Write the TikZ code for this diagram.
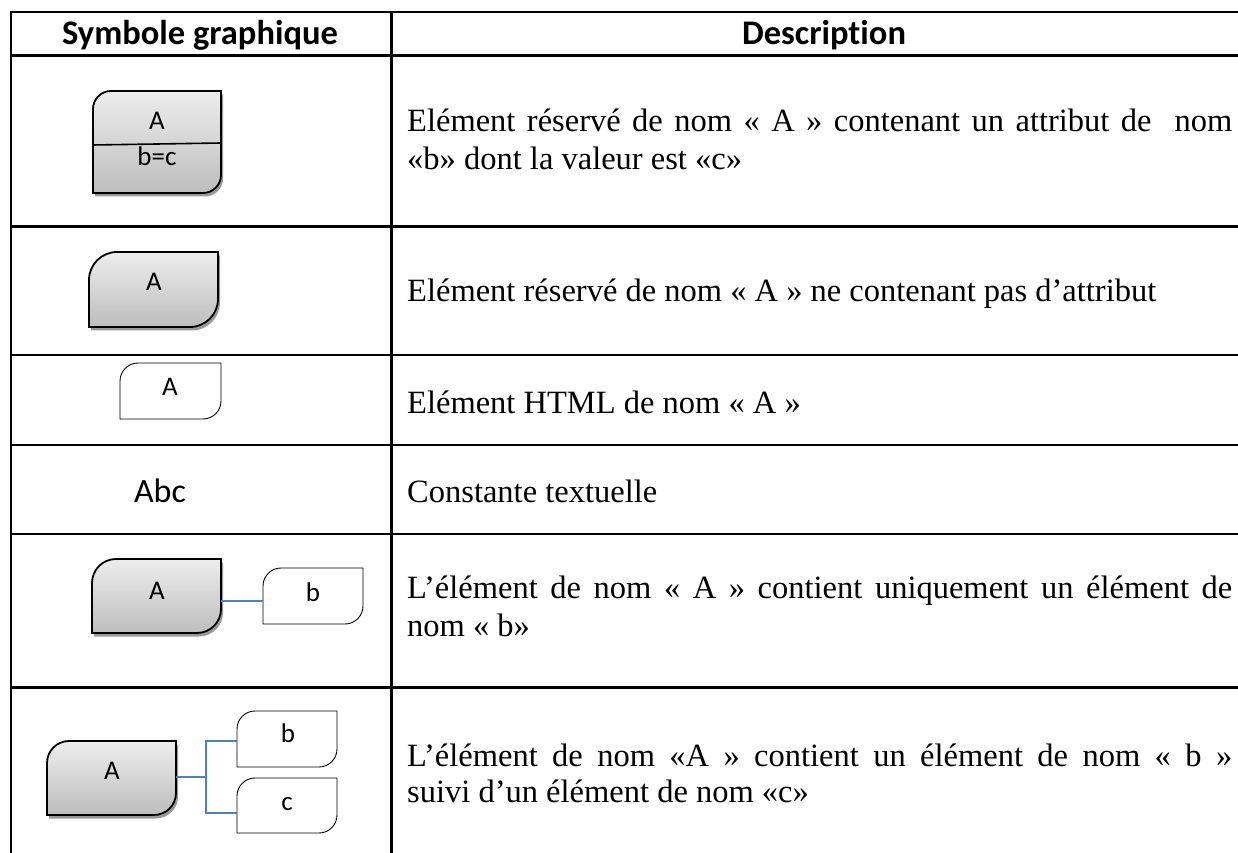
\documentclass[tikz,border=0pt]{standalone}
\usepackage{fontspec}
\newfontfamily\descfont{Liberation Serif}
\newfontfamily\shapefont[Ligatures=NoCommon]{Carlito}
\usetikzlibrary{calc}
\definecolor{linkblue}{HTML}{4F81BD}
\definecolor{fillTop}{HTML}{EDEDED}
\definecolor{fillBot}{HTML}{BDBDBD}

% outline of an element symbol: rounded top-left and bottom-right corners
% #1 node, #2 corner radius, #3/#4 offset
\newcommand\slotpath[4]{%
  ([shift={(#3,#4)}]#1.south west)
  -- ([shift={(#3,#4-#2)}]#1.north west)
  arc[start angle=180,end angle=90,radius=#2]
  -- ([shift={(#3,#4)}]#1.north east)
  -- ([shift={(#3,#4+#2)}]#1.south east)
  arc[start angle=0,end angle=-90,radius=#2]
  -- cycle}

\tikzset{
  slot/.style 2 args={rectangle, inner sep=0pt, outer sep=0pt,
    minimum width=#1, minimum height=#2},
  reserved/.style={draw=black, line width=1.8pt, top color=fillTop, bottom color=fillBot},
  htmlbox/.style={draw=black, line width=0.9pt, fill=white},
  shadowfill/.style={fill=black!40, draw=none},
  grid/.style={line width=2.4pt, line join=miter},
  head/.style={font=\shapefont\bfseries\fontsize{34.5}{37}\selectfont, anchor=base, inner sep=0pt},
  lbl/.style={font=\shapefont\fontsize{27}{30}\selectfont, anchor=base, inner sep=0pt},
  desc/.style={font=\descfont\fontsize{32.5}{38}\selectfont, anchor=base west, inner sep=0pt},
  link/.style={draw=linkblue, line width=1.6pt},
  trunk/.style={draw=linkblue, line width=2.6pt},
}

\begin{document}
\begin{tikzpicture}[x=1pt,y=1pt]
\useasboundingbox (0,0) rectangle (1238,852);
\clip (0,0) rectangle (1238,852);

% table rules
\draw[grid] (1270,840) -- (11,840) -- (11,-20);
\draw[grid] (391.5,840) -- (391.5,-20);
\foreach \yy in {796.5,625.5,497,407,318,164.5}
  \draw[grid] (11,\yy) -- (1270,\yy);

% headers
\node[head] (h1) at (200,807) {Symbole graphique};
\node[head] (h2) at (824,807) {Description};

% symbol placeholders
\node[slot={128pt}{102pt}] (r1) at (157,710) {};
\node[slot={129pt}{75pt}]  (r2) at (153.5,562.5) {};
\node[slot={101pt}{56pt}]  (r3) at (170.5,461) {};
\node[slot={129pt}{74pt}]  (a5) at (156.5,256) {};
\node[slot={100pt}{56pt}]  (b5) at (313,256) {};
\node[slot={129pt}{74pt}]  (a6) at (111.5,74) {};
\node[slot={100pt}{56pt}]  (b6) at (287,113) {};
\node[slot={100pt}{55pt}]  (c6) at (287,46.5) {};

% reserved elements (shaded, with shadow)
\foreach \n/\r in {r1/18, r2/28, a5/24, a6/22}{
  \path[shadowfill] \slotpath{\n}{\r}{2}{-3.5};
  \path[reserved] \slotpath{\n}{\r}{0}{0};
}
\draw[line width=1.6pt] ([yshift=-3pt]r1.west) -- ([yshift=-1pt]r1.east);

% HTML elements
\foreach \n in {r3, b5, b6, c6}
  \path[htmlbox] \slotpath{\n}{18}{0}{0};

% connectors
\draw[link] ([yshift=-5pt]a5.east) -- ([yshift=-5pt]b5.west);
\coordinate (j6) at (206,75);
\draw[trunk] ([yshift=1pt]a6.east) -- (j6);
\draw[link] ([yshift=-2pt]b6.west) -| (j6) |- ([yshift=-7.5pt]c6.west);

% symbol labels
\node[lbl] (t1a) at (157,722) {A};
\node[lbl] (t1b) at (157,686) {b=c};
\node[lbl] (t2)  at (154,561) {A};
\node[lbl] (t3)  at (170,456) {A};
\node[lbl, font=\shapefont\fontsize{34}{36}\selectfont] (t4) at (160,350) {Abc};
\node[lbl] (t5a) at (157,252.7) {A};
\node[lbl] (t5b) at (313,250.3) {b};
\node[lbl] (t6a) at (112,72.7) {A};
\node[lbl] (t6b) at (288,109.3) {b};
\node[lbl] (t6c) at (287,41.3) {c};

% descriptions
\node[desc] (d1a) at (407,720) {\makebox[825pt][s]{Elément réservé de nom « A » contenant un attribut de\ \ nom}};
\node[desc] (d1b) at (407,682) {«b» dont la valeur est «c»};
\node[desc] (d2)  at (407,550.3) {Elément réservé de nom « A » ne contenant pas d’attribut};
\node[desc] (d3)  at (407,438.7) {Elément HTML de nom « A »};
\node[desc] (d4)  at (407,350) {Constante textuelle};
\node[desc] (d5a) at (407,254) {\makebox[825pt][s]{L’élément de nom « A » contient uniquement un élément de}};
\node[desc] (d5b) at (407,216) {nom « b»};
\node[desc] (d6a) at (407,86) {\makebox[825pt][s]{L’élément de nom «A » contient un élément de nom « b »}};
\node[desc] (d6b) at (407,50) {suivi d’un élément de nom «c»};
\end{tikzpicture}
\end{document}
